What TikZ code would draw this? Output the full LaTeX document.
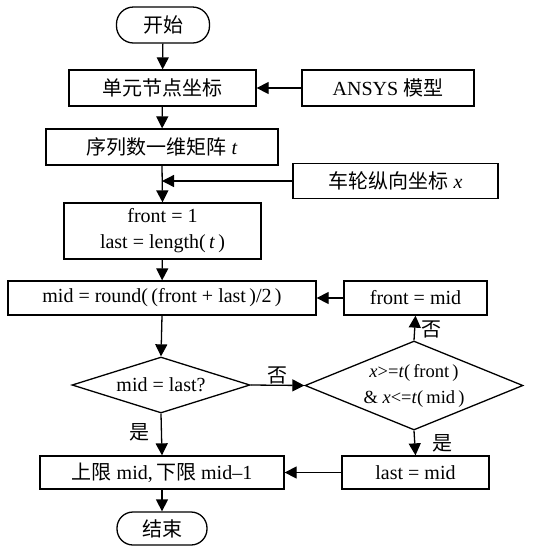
\documentclass[tikz,border=0pt]{standalone}
\usepackage{fontspec}
\setmainfont{Liberation Serif}
\newfontfamily\cjk{Noto Sans CJK SC}
\usetikzlibrary{shapes.geometric,arrows.meta}
\begin{document}
\begin{tikzpicture}[x=1pt,y=-1pt,
  every node/.style={font=\fontsize{20}{26}\selectfont},
  box/.style={draw,line width=1.3pt,inner sep=0pt,align=center},
  term/.style={draw,line width=1.3pt,rounded corners=17pt,inner sep=0pt},
  dec/.style={draw,line width=1.3pt,diamond,inner sep=0pt,align=center,aspect=3},
  lab/.style={inner sep=1pt},
  conn/.style={line width=1.3pt,-{Triangle[length=12pt,width=12pt]}}]
\useasboundingbox (0,0) rectangle (533,547);
\node[term,minimum width=93pt,minimum height=36pt] (start) at (163,25) {\cjk 开始};
\node[box,minimum width=187pt,minimum height=36pt] (elem) at (162.5,88) {\cjk 单元节点坐标};
\node[box,minimum width=172pt,minimum height=36pt] (ansys) at (388,88) {ANSYS {\cjk 模型}};
\node[box,minimum width=232pt,minimum height=36pt] (seq) at (162,147) {{\cjk 序列数一维矩阵} \textit{t}};
\node[box,minimum width=205pt,minimum height=35pt] (wheel) at (395.5,181) {{\cjk 车轮纵向坐标} \textit{x}};
\node[box,minimum width=197pt,minimum height=56pt,align=center] (init) at (162.5,231) {front = 1\\last = length(\,\textit{t}\,)};
\node[box,minimum width=308pt,minimum height=34pt] (mid) at (162,298) {mid = round(\,(front + last\,)/2\,)};
\node[box,minimum width=143pt,minimum height=34pt] (fm) at (415.5,298) {front = mid};
\node[dec,minimum width=178pt,minimum height=56pt] (d1) at (161,385) {mid = last?};
\node[dec,minimum width=218pt,minimum height=89pt,aspect=2.5,font=\fontsize{18.5}{26}\selectfont] (d2) at (414,385.5) {\textit{x}>=\textit{t}(\,front\,)\\\&~\textit{x}<=\textit{t}(\,mid\,)};
\node[box,minimum width=244pt,minimum height=33pt] (res) at (162,472.5) {{\cjk 上限} mid,\,{\cjk 下限} mid–1};
\node[box,minimum width=147pt,minimum height=33pt] (lm) at (415.5,472.5) {last = mid};
\node[term,minimum width=90pt,minimum height=33pt,rounded corners=16pt] (end) at (162,528.5) {\cjk 结束};
\coordinate (j) at (seq.south |- wheel.west);
\draw[conn] (start) -- (elem);
\draw[conn] (ansys) -- (elem);
\draw[conn] (elem) -- (seq);
\draw[conn] (seq.south) -- (init.north);
\draw[conn] (wheel.west) -- (j);
\draw[conn] (init) -- (mid);
\draw[conn] (mid.south) -- (d1.north);
\draw[conn] (d1.east) -- node[lab,above] {\cjk 否} (d2.west);
\draw[conn] (d2.north) -- node[lab,right,pos=0.45,xshift=5pt] {\cjk 否} (fm.south);
\draw[conn] (fm) -- (mid);
\draw[conn] (d2.south) -- node[lab,right,pos=0.5,xshift=16pt] {\cjk 是} (lm.north);
\draw[conn] (lm) -- (res);
\draw[conn] (d1.south) -- node[lab,left,pos=0.45,xshift=-10pt] {\cjk 是} (res.north);
\draw[conn] (res) -- (end);
\end{tikzpicture}
\end{document}
